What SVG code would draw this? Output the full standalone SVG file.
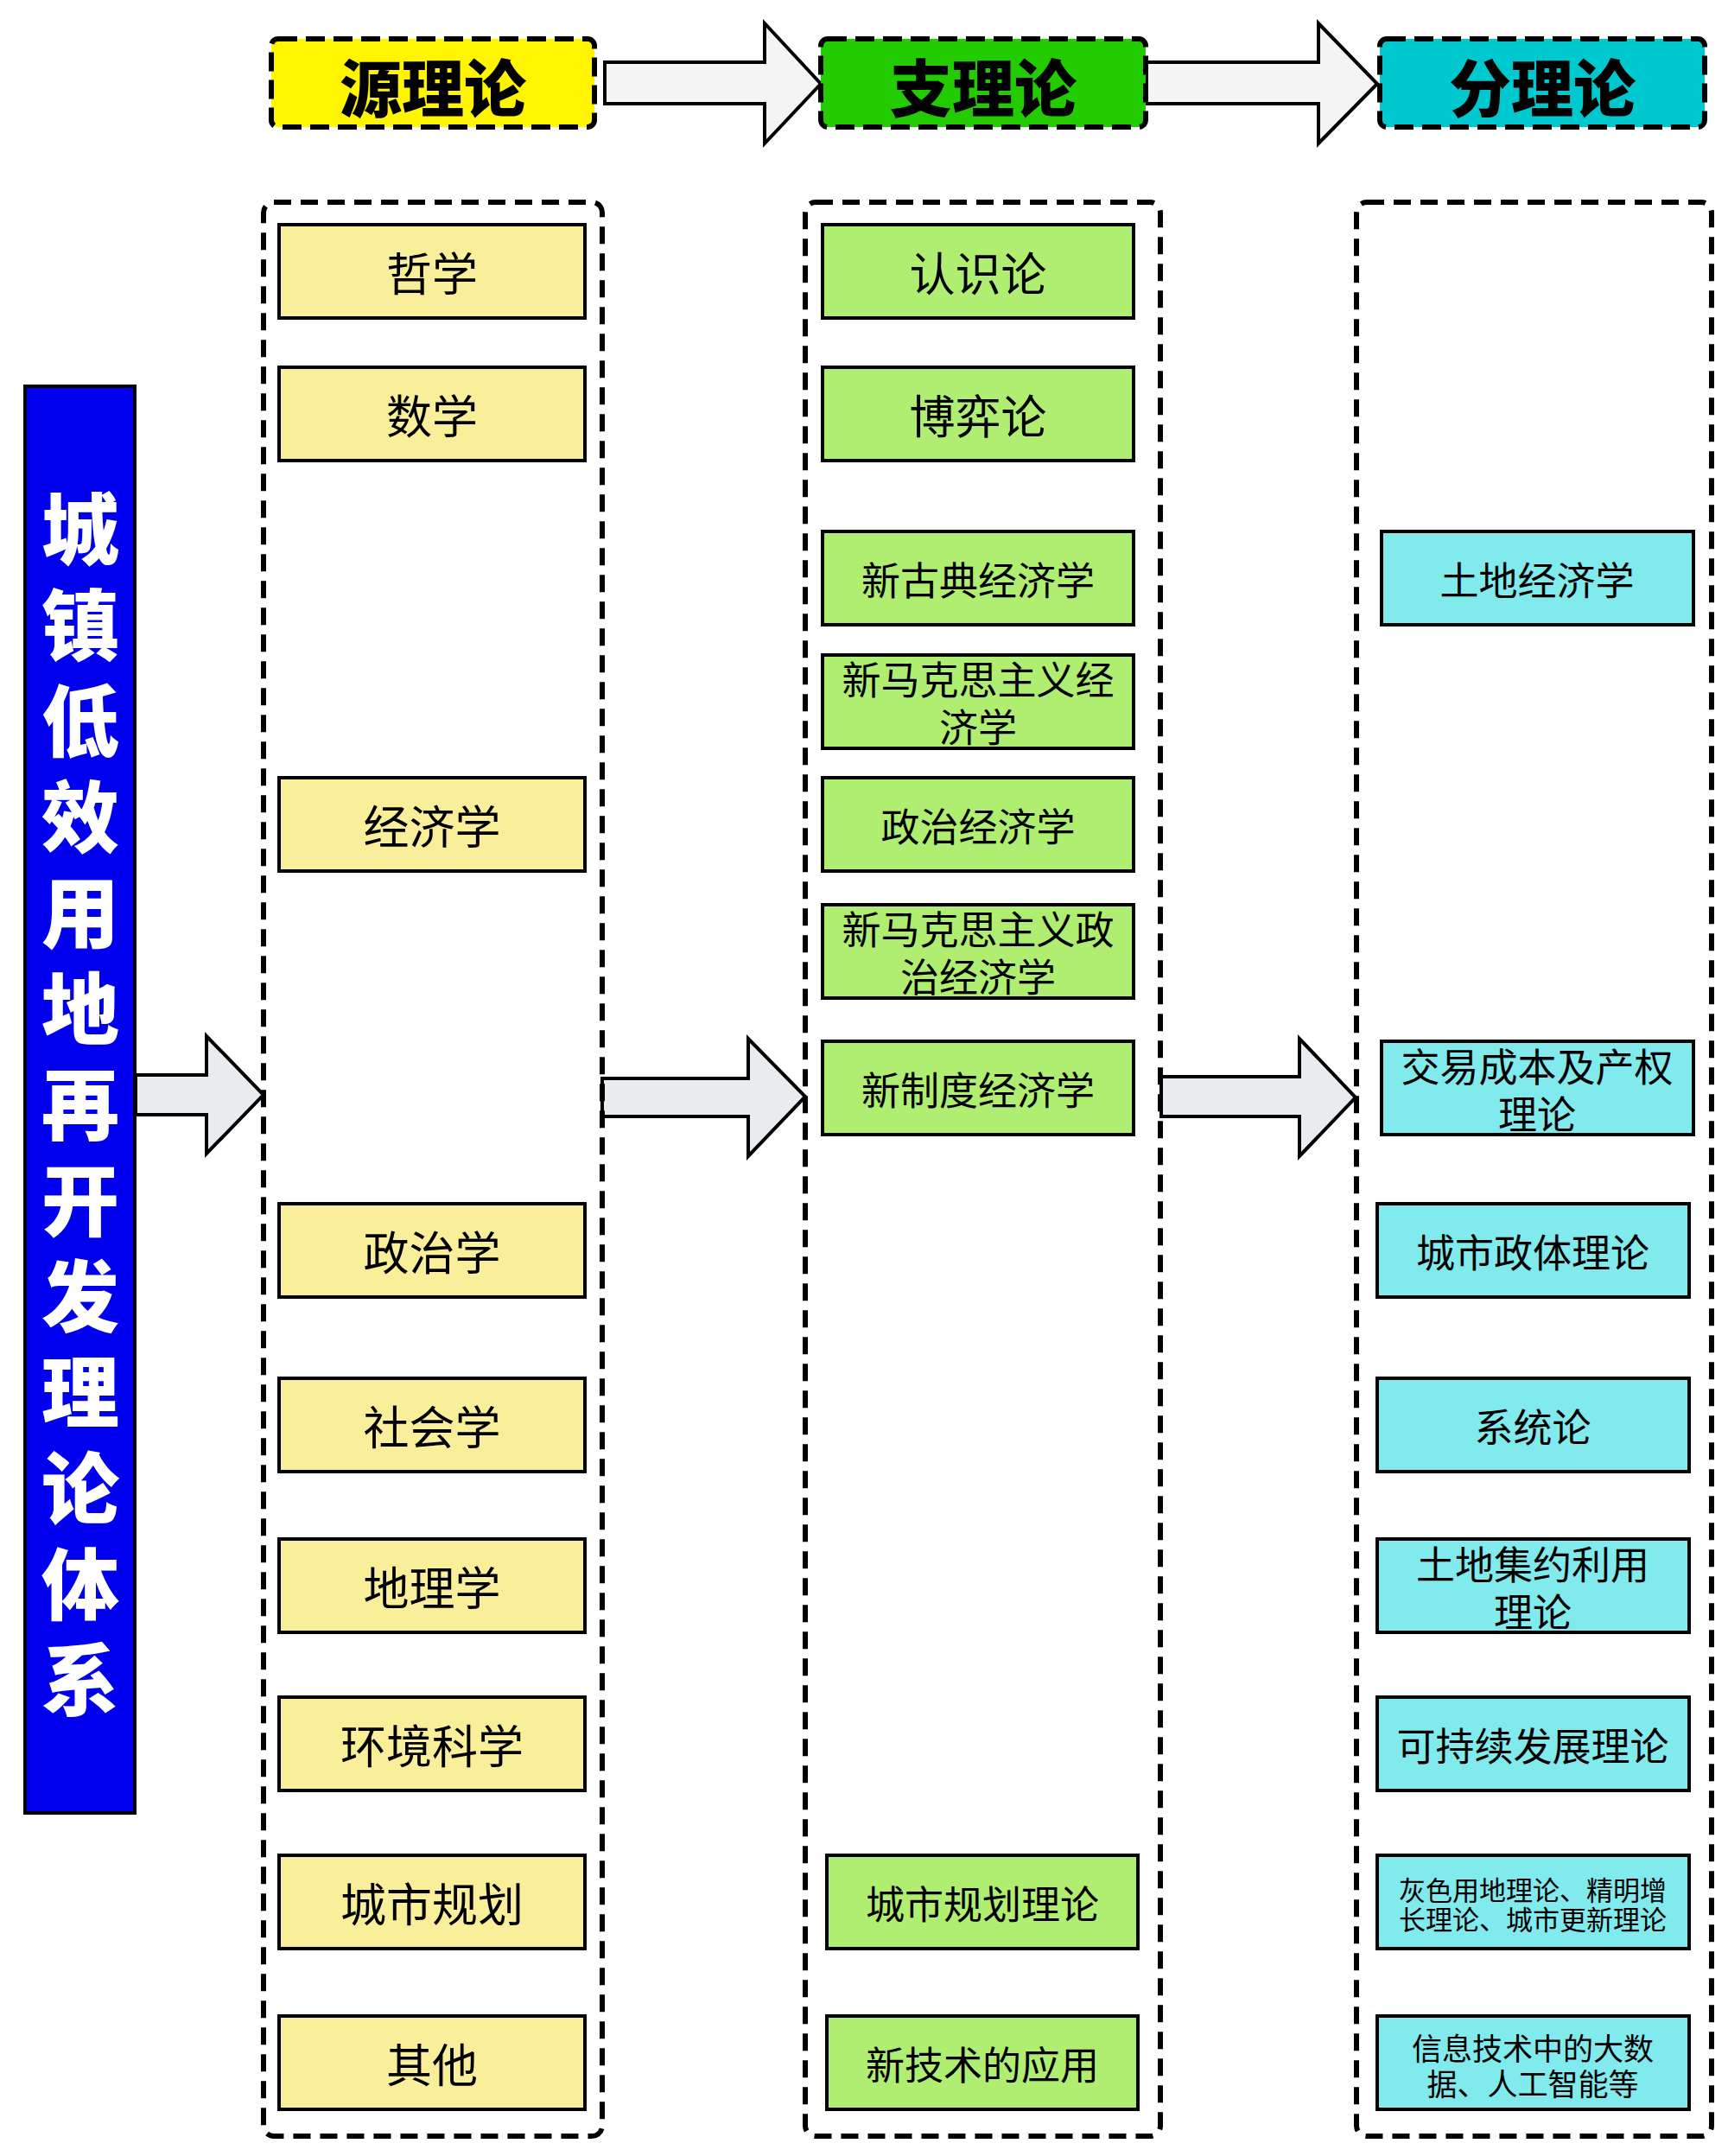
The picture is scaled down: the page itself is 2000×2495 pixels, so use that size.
<svg xmlns="http://www.w3.org/2000/svg" width="2000" height="2495" viewBox="0 0 2000 2495">
<style>
.hdr{stroke:#000;stroke-width:6;stroke-dasharray:22 10}
.col{fill:none;stroke:#000;stroke-width:6;stroke-dasharray:20 11}
.b{stroke:#000;stroke-width:4}
.y{fill:#F9EF9A}.g{fill:#B0EE72}.c{fill:#80EAEC}
text{font-family:"Noto Sans CJK SC","Noto Sans",sans-serif;text-anchor:middle;dominant-baseline:central;fill:#000}
.t53{font-size:53px}.t45{font-size:45px}.t35{font-size:35px}.t31{font-size:31px}
.h{font-size:72px;font-weight:900}
.ttl{font-size:90px;font-weight:900;fill:#fff}
.arr1{fill:#F4F4F4;stroke:#000;stroke-width:4}
.arr2{fill:#E8ECEF;stroke:#000;stroke-width:4}
</style>
<g id="connectors">
<polygon class="arr1" points="700,72 885,72 885,27 950,97 885,166 885,120 700,120"/>
<polygon class="arr1" points="1327,72 1526,72 1526,27 1594,97 1526,166 1526,120 1327,120"/>
<polygon class="arr2" points="157,1244 239,1244 239,1199 305,1267 239,1335 239,1290 157,1290"/>
<polygon class="arr2" points="697,1248 866,1248 866,1202 932,1269 866,1338 866,1292 697,1292"/>
<polygon class="arr2" points="1344,1246 1504,1246 1504,1202 1569,1270 1504,1338 1504,1292 1344,1292"/>
</g>
<g id="hdr-source"><rect class="hdr" x="314" y="45" width="374" height="102" rx="8" fill="#FFF500"/><text class="h" x="501" y="97">源理论</text></g>
<g id="hdr-branch"><rect class="hdr" x="950" y="45" width="376" height="102" rx="8" fill="#22CC00"/><text class="h" x="1138" y="97">支理论</text></g>
<g id="hdr-sub"><rect class="hdr" x="1597" y="45" width="376" height="102" rx="8" fill="#00C8CF"/><text class="h" x="1785" y="97">分理论</text></g>
<g id="title">
<rect x="29" y="447" width="127" height="1651" fill="#0000EE" stroke="#000" stroke-width="4"/>
<text class="ttl" x="93" y="607">城</text><text class="ttl" x="93" y="718">镇</text><text class="ttl" x="93" y="829">低</text><text class="ttl" x="93" y="940">效</text><text class="ttl" x="93" y="1051">用</text><text class="ttl" x="93" y="1162">地</text><text class="ttl" x="93" y="1273">再</text><text class="ttl" x="93" y="1384">开</text><text class="ttl" x="93" y="1495">发</text><text class="ttl" x="93" y="1606">理</text><text class="ttl" x="93" y="1717">论</text><text class="ttl" x="93" y="1828">体</text><text class="ttl" x="93" y="1939">系</text>
</g>
<g id="col1"><rect class="col" x="305" y="234" width="392" height="2238" rx="12"/></g>
<g id="col2"><rect class="col" x="932" y="234" width="411" height="2238" rx="12"/></g>
<g id="col3"><rect class="col" x="1570" y="234" width="411" height="2238" rx="12"/></g>
<g id="n-zhexue"><rect class="b y" x="323" y="260" width="354" height="108"/><text class="t53" x="500" y="314">哲学</text></g>
<g id="n-shuxue"><rect class="b y" x="323" y="425" width="354" height="108"/><text class="t53" x="500" y="479">数学</text></g>
<g id="n-jingjixue"><rect class="b y" x="323" y="900" width="354" height="108"/><text class="t53" x="500" y="954">经济学</text></g>
<g id="n-zhengzhixue"><rect class="b y" x="323" y="1393" width="354" height="108"/><text class="t53" x="500" y="1447">政治学</text></g>
<g id="n-shehuixue"><rect class="b y" x="323" y="1595" width="354" height="108"/><text class="t53" x="500" y="1649">社会学</text></g>
<g id="n-dilixue"><rect class="b y" x="323" y="1781" width="354" height="108"/><text class="t53" x="500" y="1835">地理学</text></g>
<g id="n-huanjing"><rect class="b y" x="323" y="1964" width="354" height="108"/><text class="t53" x="500" y="2018">环境科学</text></g>
<g id="n-chengshiguihua"><rect class="b y" x="323" y="2147" width="354" height="108"/><text class="t53" x="500" y="2201">城市规划</text></g>
<g id="n-qita"><rect class="b y" x="323" y="2333" width="354" height="108"/><text class="t53" x="500" y="2387">其他</text></g>
<g id="n-renshilun"><rect class="b g" x="952" y="260" width="360" height="108"/><text class="t53" x="1132" y="314">认识论</text></g>
<g id="n-boyilun"><rect class="b g" x="952" y="425" width="360" height="108"/><text class="t53" x="1132" y="479">博弈论</text></g>
<g id="n-xingudian"><rect class="b g" x="952" y="615" width="360" height="108"/><text class="t45" x="1132" y="669">新古典经济学</text></g>
<g id="n-xinmakesi"><rect class="b g" x="952" y="758" width="360" height="108"/><text class="t45" x="1132"><tspan x="1132" y="784">新马克思主义经</tspan><tspan x="1132" y="839">济学</tspan></text></g>
<g id="n-zhengzhijingji"><rect class="b g" x="952" y="900" width="360" height="108"/><text class="t45" x="1132" y="954">政治经济学</text></g>
<g id="n-xinmakesizz"><rect class="b g" x="952" y="1047" width="360" height="108"/><text class="t45" x="1132"><tspan x="1132" y="1073">新马克思主义政</tspan><tspan x="1132" y="1128">治经济学</tspan></text></g>
<g id="n-xinzhidu"><rect class="b g" x="952" y="1205" width="360" height="108"/><text class="t45" x="1132" y="1259">新制度经济学</text></g>
<g id="n-guihualilun"><rect class="b g" x="957" y="2147" width="360" height="108"/><text class="t45" x="1137" y="2201">城市规划理论</text></g>
<g id="n-xinjishu"><rect class="b g" x="957" y="2333" width="360" height="108"/><text class="t45" x="1137" y="2387">新技术的应用</text></g>
<g id="n-tudijingji"><rect class="b c" x="1599" y="615" width="361" height="108"/><text class="t45" x="1779" y="669">土地经济学</text></g>
<g id="n-jiaoyi"><rect class="b c" x="1599" y="1205" width="361" height="108"/><text class="t45" x="1779"><tspan x="1779" y="1232">交易成本及产权</tspan><tspan x="1779" y="1287">理论</tspan></text></g>
<g id="n-zhengti"><rect class="b c" x="1594" y="1393" width="361" height="108"/><text class="t45" x="1774" y="1447">城市政体理论</text></g>
<g id="n-xitonglun"><rect class="b c" x="1594" y="1595" width="361" height="108"/><text class="t45" x="1774" y="1649">系统论</text></g>
<g id="n-jiyue"><rect class="b c" x="1594" y="1781" width="361" height="108"/><text class="t45" x="1774"><tspan x="1774" y="1808">土地集约利用</tspan><tspan x="1774" y="1863">理论</tspan></text></g>
<g id="n-kechixu"><rect class="b c" x="1594" y="1964" width="361" height="108"/><text class="t45" x="1774" y="2018">可持续发展理论</text></g>
<g id="n-huise"><rect class="b c" x="1594" y="2147" width="361" height="108"/><text class="t31" x="1774"><tspan x="1774" y="2185">灰色用地理论、精明增</tspan><tspan x="1774" y="2219">长理论、城市更新理论</tspan></text></g>
<g id="n-xinxi"><rect class="b c" x="1594" y="2333" width="361" height="108"/><text class="t35" x="1774"><tspan x="1774" y="2368">信息技术中的大数</tspan><tspan x="1774" y="2409">据、人工智能等</tspan></text></g>
</svg>
